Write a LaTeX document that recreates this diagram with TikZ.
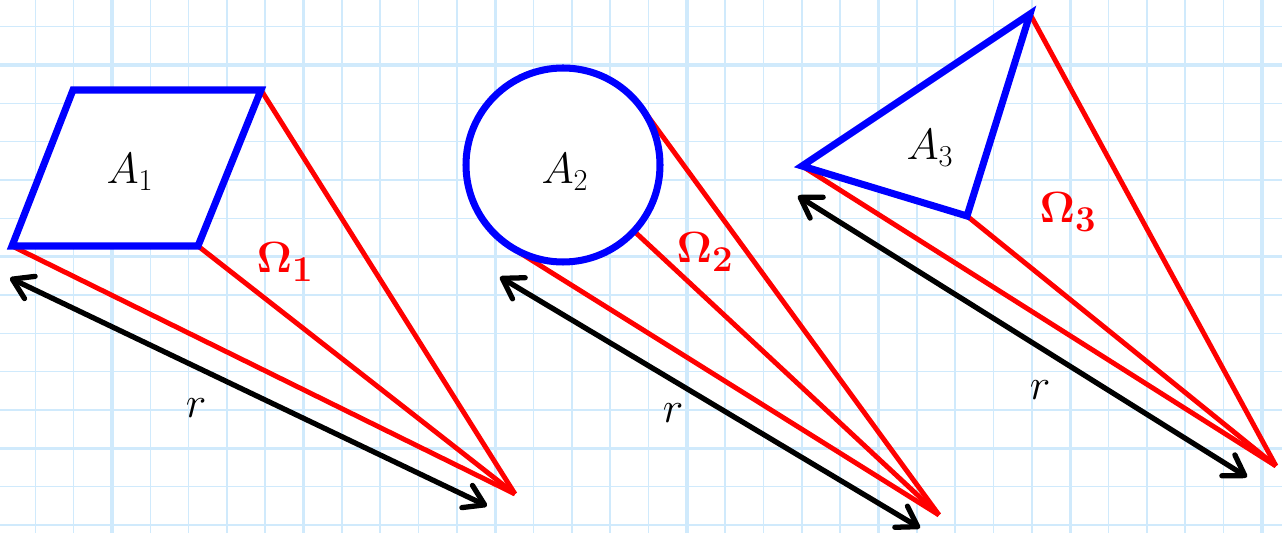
\documentclass[tikz,border=0pt]{standalone}
\usetikzlibrary{arrows.meta,calc}
\definecolor{gridblue}{RGB}{208,234,252}
\begin{document}
\begin{tikzpicture}[x=0.02cm,y=-0.02cm,
    minorgrid/.style={gridblue,line width=0.9pt},
    majorgrid/.style={gridblue,line width=2pt},
    shapeline/.style={blue,line width=4pt,fill=white,line join=miter},
    coneline/.style={red,line width=2.8pt},
    distarrow/.style={black,line width=3pt,line cap=round,
        {Straight Barb[length=11pt,width=14pt,round]}-{Straight Barb[length=11pt,width=14pt,round]}},
    arealabel/.style={font=\fontsize{24}{28}\selectfont},
    anglelabel/.style={red,font=\fontsize{30}{34}\selectfont},
    rlabel/.style={font=\fontsize{28}{32}\selectfont}]
                \useasboundingbox (0,0) rectangle (1282,533);
                % Grid paper:
                \foreach \i in {0,...,32}
                    \draw[minorgrid] ({35.3+38.33*\i},0) -- ({35.3+38.33*\i},533);
                \foreach \i in {0,...,13}
                    \draw[minorgrid] (0,{26.7+38.33*\i}) -- (1282,{26.7+38.33*\i});
                \foreach \i in {0,...,6}
                    \draw[majorgrid] ({112+191.67*\i},0) -- ({112+191.67*\i},533);
                \foreach \i in {0,...,2}
                    \draw[majorgrid] (0,{65+191.67*\i}) -- (1282,{65+191.67*\i});
                % Points:
                \coordinate (Q1) at (73,90);
                \coordinate (Q2) at (261,90);
                \coordinate (Q3) at (198,246);
                \coordinate (Q4) at (12,246);
                \coordinate (P1) at (515,494);
                \coordinate (P2) at (939,515);
                \coordinate (T1) at (802,166);
                \coordinate (T2) at (1030,14);
                \coordinate (T3) at (967,216);
                \coordinate (P3) at (1276,466);
                \node[circle,minimum size=3.88cm,inner sep=0pt] (A2) at (563,165) {};
                % Cones:
                \draw[coneline] (Q4) -- (P1);
                \draw[coneline] (Q3) -- (P1);
                \draw[coneline] (Q2) -- (P1);
                \draw[coneline] (tangent cs:node=A2,point={(P2)},solution=1) -- (P2);
                \draw[coneline] (tangent cs:node=A2,point={(P2)},solution=2) -- (P2);
                \draw[coneline] (A2) -- (P2);
                \draw[coneline] (T1) -- (P3);
                \draw[coneline] (T3) -- (P3);
                \draw[coneline] (T2) -- (P3);
                % Areas:
                \draw[shapeline] (Q1) -- (Q2) -- (Q3) -- (Q4) -- cycle;
                \draw[shapeline] (A2.center) circle[radius=97];
                \draw[shapeline] (T1) -- (T2) -- (T3) -- cycle;
                \node[arealabel] (a1) at (130,172) {$A_1$};
                \node[arealabel] (a2) at (565,172) {$A_2$};
                \node[arealabel] (a3) at (930,148) {$A_3$};
                \node[anglelabel] (o1) at (285,262) {$\mathbf{\Omega_1}$};
                \node[anglelabel] (o2) at (705,252) {$\mathbf{\Omega_2}$};
                \node[anglelabel] (o3) at (1068,212) {$\mathbf{\Omega_3}$};
                % Distances:
                \coordinate (r1a) at (10,278);
                \coordinate (r1b) at (487,506);
                \coordinate (r2a) at (500,277);
                \coordinate (r2b) at (920,528);
                \coordinate (r3a) at (798,196);
                \coordinate (r3b) at (1247,477);
                \draw[distarrow] (r1a) -- (r1b);
                \draw[distarrow] (r2a) -- (r2b);
                \draw[distarrow] (r3a) -- (r3b);
                \node[rlabel] (d1) at (196,408) {$r$};
                \node[rlabel] (d2) at (673,413) {$r$};
                \node[rlabel] (d3) at (1040,390) {$r$};
            \end{tikzpicture}
\end{document}
